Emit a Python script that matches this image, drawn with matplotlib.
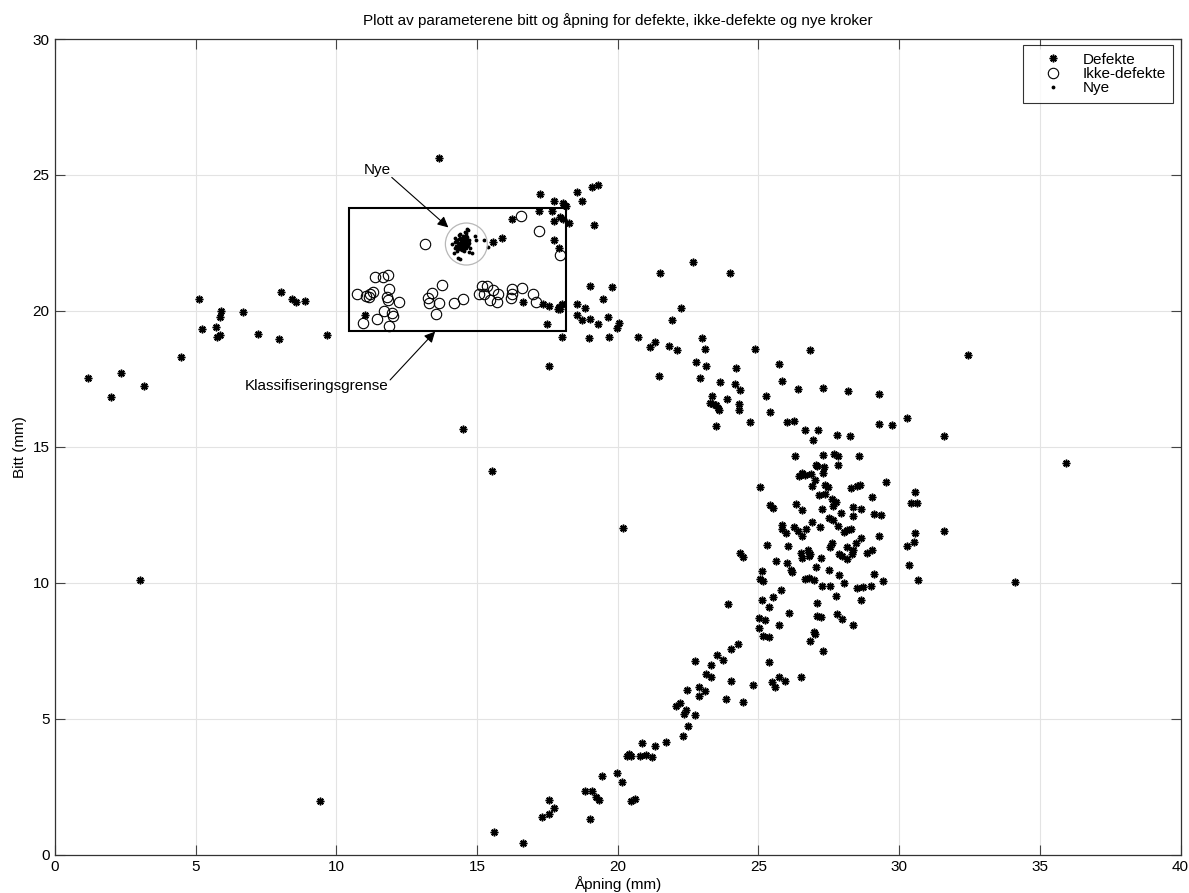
import numpy as np
import matplotlib
matplotlib.use('Agg')
import matplotlib.pyplot as plt
from matplotlib.patches import Rectangle, Ellipse

plt.rcParams['font.family'] = ['Liberation Sans', 'DejaVu Sans']

# Defekte (asterisks): aapning, bitt
defekte_x = [
    1.16, 2.00, 2.35, 3.17, 3.02, 4.48, 5.13, 5.22, 5.74, 5.75, 5.87, 5.85, 5.89, 6.68,
    7.23, 7.95, 8.03, 8.44, 8.58, 8.89, 9.67, 9.42, 11.02, 13.65, 14.50, 15.54,
    15.62, 16.63, 17.30, 17.55, 17.55, 17.73, 18.85, 19.01, 19.09, 19.22, 19.33, 19.45,
    19.99, 20.16, 20.47, 20.62, 20.34, 20.41, 20.47, 20.78, 20.99, 21.23, 20.85, 21.31,
    21.71, 22.32, 22.49, 22.35, 22.42, 22.06, 22.23, 22.76, 22.45, 22.87, 22.88, 23.09,
    22.73, 23.14, 23.31, 23.33, 23.52, 23.75, 24.03, 24.27, 24.04, 23.85, 24.46, 24.82,
    23.92, 25.02, 25.22, 25.02, 25.15, 25.39, 25.39, 25.39, 25.48, 25.59, 25.73, 25.73,
    25.11, 25.95, 26.51,
    17.25, 18.56, 19.09, 19.29, 17.73, 18.73, 18.05, 18.10, 18.17, 17.21, 17.66, 17.96,
    18.04, 17.74, 18.26, 19.16, 16.25, 15.87, 15.58, 17.72, 17.93, 19.01, 19.79, 19.49,
    16.63, 17.34, 17.54, 17.90, 17.86, 17.96, 18.01, 18.55, 18.84, 18.54, 18.74, 19.02,
    19.31, 19.64, 20.05, 19.97, 18.98, 19.69, 17.48, 18.02, 17.56, 20.72, 21.13, 21.32,
    21.81, 22.12, 21.46, 22.26, 21.92, 21.50, 22.66, 23.99, 23.01, 23.11, 22.79, 24.86,
    26.83, 20.19,
    32.43, 23.12, 24.19, 25.73, 22.92, 23.65, 24.17, 24.35, 25.83, 26.40, 27.30, 28.19,
    29.30, 23.35, 23.27, 23.37, 23.48, 23.55, 23.60, 23.87, 24.30, 24.32, 25.27, 25.40,
    23.50, 24.71, 26.00, 26.27, 26.67, 27.12, 26.95, 27.79, 28.25, 29.28, 29.76, 30.28,
    31.60, 35.93, 34.12,
    26.31, 27.31, 27.68, 27.83, 27.82, 28.57, 27.06, 27.08, 27.32, 26.56, 26.44, 26.66,
    26.87, 27.31, 27.00, 26.89, 27.38, 27.46, 27.36, 27.15, 28.30, 28.51, 28.61, 29.54,
    29.04, 25.07, 27.61, 27.75, 27.64, 26.33, 25.42, 25.50, 26.53, 27.26, 28.36, 28.65,
    27.95, 28.36, 29.09, 29.35, 30.56, 30.41, 30.65, 27.49, 27.65, 26.92, 27.20, 27.83,
    25.82, 25.85, 25.97, 26.27, 26.40, 26.56, 26.69, 28.04, 28.14, 28.28, 29.28, 30.58,
    31.58, 28.66, 25.31, 26.06, 27.62, 27.56, 28.48, 28.14, 26.77, 26.78, 26.84, 26.50,
    26.53, 27.88, 27.98, 28.14, 28.32, 28.36, 28.86, 29.05, 30.27, 30.51, 27.24, 24.36,
    24.44, 25.64, 26.01, 26.14, 26.19, 27.06, 27.49, 27.88, 29.11, 30.35, 25.14, 25.07,
    25.17, 26.65, 26.80, 26.96, 28.04, 29.43, 30.66, 27.26, 27.56, 28.50, 28.72, 29.01,
    25.79, 25.51, 27.74, 28.64, 27.07, 26.09, 27.07, 27.21, 27.79, 27.98, 28.35, 26.99,
    27.02, 26.83, 27.31,
]
defekte_y = [
    17.54, 16.85, 17.73, 17.24, 10.10, 18.30, 20.45, 19.35, 19.41, 19.04, 19.12, 19.78, 20.00, 19.96,
    19.16, 18.95, 20.68, 20.43, 20.33, 20.37, 19.10, 1.97, 19.86, 25.63, 15.65, 14.10,
    0.82, 0.44, 1.38, 1.50, 2.02, 1.73, 2.35, 1.30, 2.35, 2.13, 2.01, 2.89,
    3.00, 2.69, 1.97, 2.03, 3.64, 3.72, 3.63, 3.63, 3.66, 3.60, 4.12, 3.98,
    4.13, 4.38, 4.73, 5.17, 5.34, 5.46, 5.59, 5.13, 6.04, 6.18, 5.85, 6.02,
    7.11, 6.65, 6.97, 6.54, 7.36, 7.15, 7.56, 7.75, 6.38, 5.73, 5.61, 6.25,
    9.21, 8.71, 8.63, 8.35, 8.05, 8.00, 9.12, 7.08, 6.34, 6.16, 6.54, 8.44,
    9.36, 6.38, 6.54,
    24.31, 24.36, 24.55, 24.62, 24.04, 24.06, 23.96, 23.88, 23.87, 23.67, 23.67, 23.46,
    23.38, 23.31, 23.25, 23.17, 23.39, 22.69, 22.52, 22.62, 22.31, 20.93, 20.88, 20.45,
    20.32, 20.26, 20.18, 20.13, 20.06, 20.06, 20.24, 20.24, 20.11, 19.86, 19.66, 19.69,
    19.51, 19.78, 19.56, 19.37, 18.99, 19.04, 19.51, 19.03, 17.99, 19.04, 18.66, 18.85,
    18.70, 18.57, 17.62, 20.12, 19.66, 21.38, 21.81, 21.40, 19.02, 18.60, 18.13, 18.59,
    18.55, 12.01,
    18.38, 17.99, 17.90, 18.05, 17.55, 17.37, 17.30, 17.08, 17.41, 17.11, 17.16, 17.04,
    16.94, 16.86, 16.63, 16.59, 16.54, 16.44, 16.37, 16.76, 16.58, 16.34, 16.86, 16.29,
    15.78, 15.90, 15.91, 15.96, 15.61, 15.63, 15.25, 15.45, 15.40, 15.83, 15.80, 16.06,
    15.40, 14.40, 10.02,
    14.66, 14.69, 14.73, 14.66, 14.33, 14.66, 14.34, 14.31, 14.25, 14.05, 13.92, 13.98,
    13.99, 14.04, 13.79, 13.55, 13.60, 13.52, 13.28, 13.22, 13.49, 13.56, 13.60, 13.72,
    13.17, 13.51, 13.08, 12.97, 12.81, 12.91, 12.87, 12.76, 12.67, 12.71, 12.79, 12.73,
    12.57, 12.47, 12.53, 12.49, 13.34, 12.92, 12.95, 12.39, 12.31, 12.22, 12.05, 12.10,
    12.13, 11.97, 11.85, 12.05, 11.91, 11.72, 11.98, 11.86, 11.93, 11.97, 11.71, 11.84,
    11.89, 11.66, 11.40, 11.34, 11.46, 11.32, 11.46, 11.31, 11.22, 11.00, 11.07, 11.11,
    10.92, 11.05, 10.98, 10.87, 11.06, 11.20, 11.09, 11.20, 11.35, 11.51, 10.92, 11.11,
    10.94, 10.81, 10.74, 10.46, 10.41, 10.59, 10.46, 10.30, 10.33, 10.64, 10.44, 10.14,
    10.06, 10.14, 10.19, 10.10, 9.99, 10.06, 10.10, 9.89, 9.90, 9.82, 9.84, 9.90,
    9.74, 9.48, 9.52, 9.36, 9.25, 8.89, 8.79, 8.76, 8.85, 8.66, 8.45, 8.19,
    8.12, 7.87, 7.50,
]

# Ikke-defekte (open circles)
ikke_x = [
    16.57, 17.21, 17.96, 13.15, 11.36, 11.65, 11.85, 10.73, 11.06, 11.20, 11.30, 11.16,
    11.87, 11.79, 11.85, 12.22, 11.71, 11.97, 12.01, 11.43, 10.94, 11.86, 13.76, 13.41,
    13.27, 13.28, 13.66, 13.55, 14.18, 14.49, 15.08, 15.17, 15.36, 15.26, 15.58, 15.76,
    15.47, 15.70, 16.25, 16.26, 16.20, 16.61, 17.00, 17.10,
]
ikke_y = [
    23.49, 22.94, 22.07, 22.47, 21.24, 21.24, 21.33, 20.61, 20.55, 20.62, 20.68, 20.51,
    20.81, 20.51, 20.39, 20.32, 19.99, 19.92, 19.80, 19.70, 19.56, 19.45, 20.95, 20.67,
    20.46, 20.28, 20.28, 19.88, 20.29, 20.42, 20.61, 20.91, 20.91, 20.63, 20.76, 20.63,
    20.39, 20.32, 20.81, 20.63, 20.47, 20.84, 20.61, 20.32,
]

# Nye (small dots)
nye_x = [
    14.20, 14.25, 14.30, 14.34, 14.38, 14.42, 14.46, 14.50, 14.54, 14.58, 14.62, 14.66,
    14.70, 14.22, 14.28, 14.33, 14.37, 14.41, 14.45, 14.49, 14.53, 14.57, 14.61, 14.65,
    14.27, 14.31, 14.36, 14.40, 14.44, 14.48, 14.52, 14.56, 14.60, 14.64, 14.68, 14.72,
    14.35, 14.39, 14.43, 14.47, 14.51, 14.55, 14.59, 14.63, 14.45, 14.52, 14.58, 14.40,
    14.63, 14.69, 14.93, 14.95, 15.26, 15.40, 14.73, 14.81, 14.34, 14.40, 14.22, 14.10,
    14.56, 14.74, 14.18,
]
nye_y = [
    22.55, 22.40, 22.62, 22.30, 22.70, 22.48, 22.58, 22.36, 22.66, 22.44, 22.52, 22.38,
    22.60, 22.68, 22.22, 22.50, 22.78, 22.26, 22.44, 22.72, 22.28, 22.56, 22.80, 22.47,
    22.58, 22.36, 22.64, 22.40, 22.54, 22.24, 22.48, 22.70, 22.32, 22.62, 22.42, 22.50,
    22.46, 22.82, 22.34, 22.60, 22.76, 22.40, 22.86, 22.72, 22.50, 22.20, 22.58, 22.66,
    23.02, 22.96, 22.75, 22.60, 22.62, 22.35, 22.17, 22.13, 21.95, 21.90, 22.31, 22.47,
    22.90, 22.30, 22.12,
]

fig = plt.figure(figsize=(11.89, 8.93), dpi=100)
ax = fig.add_axes([0.0462, 0.0429, 0.9467, 0.9134])

ast = (8, 2, 0)
ax.plot(defekte_x, defekte_y, linestyle='none', marker=ast, markersize=5.5,
        markeredgewidth=1.1, color='black', label='Defekte')
ax.plot(ikke_x, ikke_y, linestyle='none', marker='o', markersize=7.5,
        markerfacecolor='none', markeredgecolor='black', markeredgewidth=0.8,
        label='Ikke-defekte')
ax.plot(nye_x, nye_y, linestyle='none', marker='.', markersize=3.5,
        color='black', label='Nye')

# klassifiseringsgrense and the circle around the new hooks
ax.add_patch(Rectangle((10.45, 19.26), 18.17 - 10.45, 23.77 - 19.26,
                       fill=False, edgecolor='black', linewidth=1.5, zorder=3))
ax.add_patch(Ellipse((14.62, 22.46), 1.49, 1.545, fill=False,
                     edgecolor='#b8b8b8', linewidth=0.9, zorder=3))

arrow = dict(arrowstyle='-|>', color='black', lw=0.8, mutation_scale=16,
             shrinkA=0, shrinkB=0)
ax.annotate('', xy=(13.98, 23.07), xytext=(11.97, 24.91), arrowprops=arrow)
ax.text(11.45, 25.18, 'Nye', ha='center', va='center', fontsize=11)
ax.annotate('', xy=(13.51, 19.24), xytext=(11.91, 17.46), arrowprops=arrow)
ax.text(9.30, 17.24, 'Klassifiseringsgrense', ha='center', va='center', fontsize=11)

ax.set_xlim(0, 40)
ax.set_ylim(0, 30)
ax.set_xticks(np.arange(0, 41, 5))
ax.set_yticks(np.arange(0, 31, 5))
ax.grid(True, color='#e3e3e3', linewidth=0.8)
ax.set_axisbelow(True)
ax.tick_params(direction='in', length=7, width=0.8, top=True, right=True,
               labelsize=11, pad=4, color='#444444')
for s in ax.spines.values():
    s.set_linewidth(0.9)
    s.set_color('#333333')

ax.set_title('Plott av parameterene bitt og åpning for defekte, ikke-defekte og nye kroker',
             fontsize=11, pad=10)
ax.set_xlabel('Åpning (mm)', fontsize=11, labelpad=1)
ax.set_ylabel('Bitt (mm)', fontsize=11, labelpad=4)

leg = ax.legend(loc='upper right', bbox_to_anchor=(0.9936, 0.9926), borderaxespad=0,
                fontsize=11, frameon=True, fancybox=False, labelspacing=0.02,
                handlelength=3.0, handletextpad=0.4, borderpad=0.5)
leg.get_frame().set_edgecolor('black')
leg.get_frame().set_linewidth(0.8)

fig.savefig('out.png', dpi=100)
